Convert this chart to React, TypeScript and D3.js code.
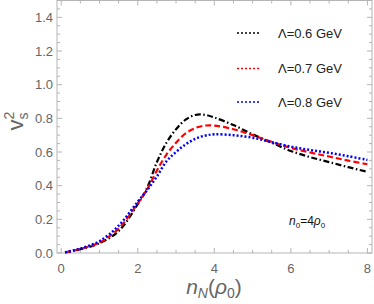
import React, { useEffect, useRef } from 'react';
import * as d3 from 'd3';

const densities = [0.1, 0.5, 1.0, 1.5, 2.0, 2.25, 2.5, 2.75, 3.0, 3.25, 3.5, 3.75, 4.0, 4.5, 5.0, 5.5, 6.0, 6.5, 7.0, 7.5, 8.0];
const lambda06 = [0.003, 0.022, 0.058, 0.13, 0.29, 0.39, 0.54, 0.655, 0.735, 0.792, 0.82, 0.821, 0.805, 0.76, 0.705, 0.655, 0.606, 0.57, 0.54, 0.51, 0.482];
const lambda07 = [0.003, 0.024, 0.062, 0.145, 0.295, 0.38, 0.49, 0.585, 0.655, 0.71, 0.742, 0.757, 0.757, 0.735, 0.70, 0.66, 0.625, 0.597, 0.573, 0.549, 0.527];
const lambda08 = [0.004, 0.027, 0.07, 0.162, 0.305, 0.375, 0.455, 0.545, 0.6, 0.645, 0.678, 0.697, 0.705, 0.7, 0.685, 0.658, 0.632, 0.612, 0.595, 0.575, 0.553];
const seriesLabels = ['Λ=0.6 GeV', 'Λ=0.7 GeV', 'Λ=0.8 GeV'];
const xTicks = [0, 2, 4, 6, 8];
const yTicks = [0.0, 0.2, 0.4, 0.6, 0.8, 1.0, 1.2, 1.4];

const W = 374;
const H = 304;

const App: React.FC = () => {
  const svgRef = useRef<SVGSVGElement>(null);

  useEffect(() => {
    const svg = d3.select(svgRef.current);
    svg.selectAll('*').remove();

    const left = 57, right = 372, top = 0.5, bottom = 253;
    const x = d3.scaleLinear().domain([-0.11, 8.12]).range([left, right]);
    const y = d3.scaleLinear().domain([0, 1.5]).range([bottom, top]);

    const frameColor = '#b5b5b5';
    const labelColor = '#666';

    // frame
    svg.append('rect')
      .attr('x', left).attr('y', top)
      .attr('width', right - left).attr('height', bottom - top)
      .attr('fill', 'none').attr('stroke', frameColor).attr('stroke-width', 1);

    // ticks on all four sides
    const xMinor = d3.range(0, 8.01, 0.5);
    const yMinor = d3.range(0, 1.501, 0.05);
    const tickG = svg.append('g').attr('stroke', frameColor).attr('stroke-width', 1);
    xMinor.forEach(v => {
      const major = Math.abs(v / 2 - Math.round(v / 2)) < 1e-6;
      const len = major ? 5 : 3;
      tickG.append('line').attr('x1', x(v)).attr('x2', x(v)).attr('y1', bottom).attr('y2', bottom - len);
      tickG.append('line').attr('x1', x(v)).attr('x2', x(v)).attr('y1', top).attr('y2', top + len);
    });
    yMinor.forEach(v => {
      const major = Math.abs(v / 0.2 - Math.round(v / 0.2)) < 1e-6;
      const len = major ? 5 : 3;
      tickG.append('line').attr('y1', y(v)).attr('y2', y(v)).attr('x1', left).attr('x2', left + len);
      tickG.append('line').attr('y1', y(v)).attr('y2', y(v)).attr('x1', right).attr('x2', right - len);
    });

    // tick labels
    svg.append('g').selectAll('text').data(yTicks).enter().append('text')
      .attr('x', left - 4).attr('y', d => y(d) + 4.5)
      .attr('text-anchor', 'end')
      .style('font-family', 'Liberation Sans, Arial, sans-serif')
      .style('font-size', '13px').style('fill', labelColor)
      .text(d => d.toFixed(1));

    svg.append('g').selectAll('text').data(xTicks).enter().append('text')
      .attr('x', d => x(d)).attr('y', bottom + 20)
      .attr('text-anchor', 'middle')
      .style('font-family', 'Liberation Sans, Arial, sans-serif')
      .style('font-size', '13px').style('fill', labelColor)
      .text(d => String(d));

    // curves
    const styles = [
      { values: lambda06, color: '#000', dash: '6,2.5,1.5,2.5', width: 2.2 },
      { values: lambda07, color: '#f00', dash: '6,3', width: 2.2 },
      { values: lambda08, color: '#00f', dash: '2,2', width: 2.5 },
    ];
    const line = d3.line<[number, number]>()
      .x(d => x(d[0])).y(d => y(d[1]))
      .curve(d3.curveCatmullRom.alpha(0.5));

    styles.forEach(s => {
      const pts = densities.map((d, i) => [d, s.values[i]] as [number, number]);
      svg.append('path')
        .attr('d', line(pts) || '')
        .attr('fill', 'none')
        .attr('stroke', s.color)
        .attr('stroke-width', s.width)
        .attr('stroke-dasharray', s.dash);
    });

    // legend
    const legendY = [33, 68.5, 102];
    styles.forEach((s, i) => {
      svg.append('line')
        .attr('x1', 237).attr('x2', 260)
        .attr('y1', legendY[i]).attr('y2', legendY[i])
        .attr('stroke', s.color).attr('stroke-width', 1.5)
        .attr('stroke-dasharray', '2,2');
      svg.append('text')
        .attr('x', 278).attr('y', legendY[i] + 4.5)
        .style('font-family', 'Liberation Sans, Arial, sans-serif')
        .style('font-size', '13px').style('fill', '#222')
        .text(seriesLabels[i]);
    });

    // annotation
    const ann = svg.append('text')
      .attr('x', 289).attr('y', 225)
      .style('font-family', 'Liberation Sans, Arial, sans-serif')
      .style('font-size', '12px').style('fill', '#111');
    ann.append('tspan').style('font-style', 'italic').text('n');
    ann.append('tspan').attr('dy', 3).style('font-size', '8px').text('0');
    ann.append('tspan').attr('dy', -3).text('=4');
    ann.append('tspan').style('font-style', 'italic').text('ρ');
    ann.append('tspan').attr('dy', 3).style('font-size', '8px').text('0');

    // x axis label
    const xl = svg.append('text')
      .attr('x', 214).attr('y', 294)
      .attr('text-anchor', 'middle')
      .style('font-family', 'Liberation Sans, Arial, sans-serif')
      .style('font-size', '21px').style('fill', labelColor);
    xl.append('tspan').style('font-style', 'italic').text('n');
    xl.append('tspan').attr('dy', 4).style('font-size', '14px').style('font-style', 'italic').text('N');
    xl.append('tspan').attr('dy', -4).text('(');
    xl.append('tspan').style('font-style', 'italic').text('ρ');
    xl.append('tspan').attr('dy', 4).style('font-size', '14px').text('0');
    xl.append('tspan').attr('dy', -4).text(')');

    // y axis label
    const yl = svg.append('text')
      .attr('transform', 'translate(23,121) rotate(-90)')
      .attr('text-anchor', 'middle')
      .style('font-family', 'Liberation Sans, Arial, sans-serif')
      .style('font-size', '22px').style('fill', labelColor);
    yl.append('tspan').text('v');
    yl.append('tspan').attr('dy', -9).style('font-size', '14px').text('2');
    yl.append('tspan').attr('dx', -8).attr('dy', 14).style('font-size', '14px').text('s');
  }, []);

  return (
    <div style={{ position: 'absolute', left: 0, top: 0, width: W, height: H, background: '#fff' }}>
      <svg ref={svgRef} width={W} height={H} />
    </div>
  );
};

export default App;
